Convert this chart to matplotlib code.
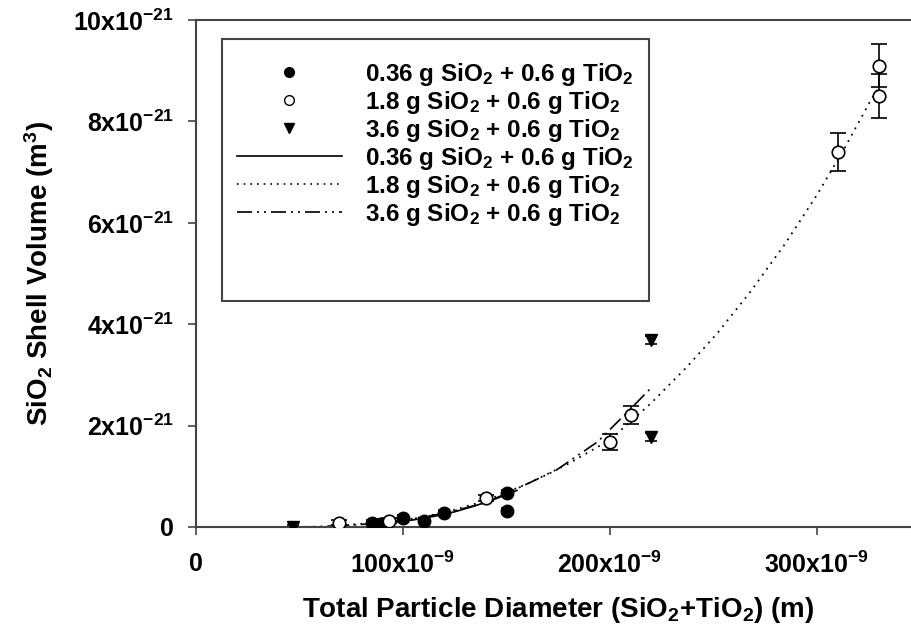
import matplotlib
matplotlib.use("Agg")
import matplotlib.pyplot as plt
from matplotlib.lines import Line2D
from matplotlib.patches import Rectangle
import numpy as np

plt.rcParams["font.family"] = ["Liberation Sans", "DejaVu Sans"]
plt.rcParams["font.weight"] = "bold"
plt.rcParams["mathtext.fontset"] = "custom"
plt.rcParams["mathtext.rm"] = "Liberation Sans:bold"
plt.rcParams["mathtext.it"] = "Liberation Sans:bold"
plt.rcParams["mathtext.bf"] = "Liberation Sans:bold"
plt.rcParams["mathtext.default"] = "rm"

# ===================== DADOS (x em nm, y em 1e-21 m^3) =====================
x_036 = [85, 89, 100, 110, 120, 150, 150]
y_036 = [0.08, 0.06, 0.18, 0.12, 0.28, 0.67, 0.32]
e_036 = [0.05, 0.05, 0.06, 0.05, 0.06, 0.06, 0.06]

x_18 = [69, 93, 140, 200, 210, 310, 330, 330]
y_18 = [0.08, 0.12, 0.57, 1.68, 2.21, 7.40, 9.10, 8.50]
e_18 = [0.05, 0.05, 0.06, 0.16, 0.18, 0.38, 0.43, 0.43]

x_36 = [47, 220, 220]
y_36 = [0.0, 3.68, 1.77]
e_36 = [0.03, 0.08, 0.08]

# curvas ajustadas
cx_036 = [85, 95, 105, 115, 125, 135, 145, 155]
cy_036 = [0.05, 0.09, 0.14, 0.21, 0.30, 0.42, 0.56, 0.72]

cx_18 = [69, 80, 100, 120, 140, 160, 180, 200, 220, 237, 252, 268, 284, 300, 313, 326, 330]
cy_18 = [0.03, 0.06, 0.13, 0.28, 0.52, 0.85, 1.25, 1.72, 2.45, 3.15, 3.83, 4.65, 5.55, 6.55, 7.45, 8.42, 8.68]

cx_36 = [47, 60, 80, 100, 120, 140, 152, 161, 174, 194, 208, 220]
cy_36 = [0.0, 0.01, 0.05, 0.13, 0.27, 0.48, 0.70, 0.87, 1.12, 1.68, 2.25, 2.75]

rotulos = ["0.36 g SiO$_2$ + 0.6 g TiO$_2$",
           "1.8 g SiO$_2$ + 0.6 g TiO$_2$",
           "3.6 g SiO$_2$ + 0.6 g TiO$_2$"]

def m(v, s):
    return np.array(v) * s

# ===================== FIGURA =====================
fig = plt.figure(figsize=(9.12, 6.36), dpi=100)
ax = fig.add_axes([196 / 912, 1 - 527 / 636, 724.5 / 912, 507 / 636])

dashdot = (0, (9, 3, 1.2, 3, 1.2, 3))

ax.plot(m(cx_036, 1e-9), m(cy_036, 1e-21), color="black", lw=1.2, zorder=2)
ax.plot(m(cx_18, 1e-9), m(cy_18, 1e-21), color="black", lw=1.3, linestyle=(0, (1, 3)), zorder=2)
ax.plot(m(cx_36, 1e-9), m(cy_36, 1e-21), color="black", lw=1.2, linestyle=dashdot, zorder=2)

ax.errorbar(m(x_036, 1e-9), m(y_036, 1e-21), yerr=m(e_036, 1e-21), fmt="o", color="black",
            mfc="black", mec="black", ms=9, capsize=4, elinewidth=1.2, capthick=1.2, zorder=3)
ax.errorbar(m(x_18, 1e-9), m(y_18, 1e-21), yerr=m(e_18, 1e-21), fmt="o", color="black",
            mfc="white", mec="black", ms=9, mew=1.2, capsize=5.5, elinewidth=1.2, capthick=1.2, zorder=3)
ax.errorbar(m(x_36, 1e-9), m(y_36, 1e-21), yerr=m(e_36, 1e-21), fmt="v", color="black",
            mfc="black", mec="black", ms=9, capsize=4, elinewidth=1.2, capthick=1.2, zorder=3)

ax.set_xlim(0, 350e-9)
ax.set_ylim(0, 10e-21)

ax.set_xticks([0, 100e-9, 200e-9, 300e-9])
ax.set_xticklabels(["0", "100x10$^{-9}$", "200x10$^{-9}$", "300x10$^{-9}$"])
ax.set_yticks([0, 2e-21, 4e-21, 6e-21, 8e-21, 10e-21])
ax.set_yticklabels(["0", "2x10$^{-21}$", "4x10$^{-21}$", "6x10$^{-21}$", "8x10$^{-21}$", "10x10$^{-21}$"])

for s in ax.spines.values():
    s.set_color("#444444")
    s.set_linewidth(1.5)
ax.tick_params(direction="out", length=6, width=1.2, color="#444444", labelsize=18, pad=10)
ax.tick_params(axis="x", pad=12)

ax.set_xlabel("Total Particle Diameter (SiO$_2$+TiO$_2$) (m)", fontsize=20, fontweight="bold", labelpad=12)
ax.set_ylabel("SiO$_2$ Shell Volume (m$^3$)", fontsize=20, fontweight="bold", labelpad=12)

# ===================== LEGENDA =====================
fig.patches.append(Rectangle((222 / 912, 1 - 301 / 636), 427 / 912, 262 / 636,
                             transform=fig.transFigure, fill=False, edgecolor="#444444", lw=1.5))

handles = [
    Line2D([], [], ls="none", marker="o", color="black", mfc="black", ms=7),
    Line2D([], [], ls="none", marker="o", color="black", mfc="white", ms=7, mew=1),
    Line2D([], [], ls="none", marker="v", color="black", mfc="black", ms=7),
    Line2D([], [], color="black", lw=1.2),
    Line2D([], [], color="black", lw=1.2, linestyle=(0, (1, 3))),
    Line2D([], [], color="black", lw=1.2, linestyle=dashdot),
]
ax.legend(handles, rotulos + rotulos, loc="upper left", bbox_to_anchor=(237 / 912, 1 - 61 / 636),
          bbox_transform=fig.transFigure, frameon=False, fontsize=17.5, handlelength=4.3,
          handletextpad=0.95, labelspacing=0.04, borderpad=0, borderaxespad=0)

fig.savefig("out.png", dpi=100)
